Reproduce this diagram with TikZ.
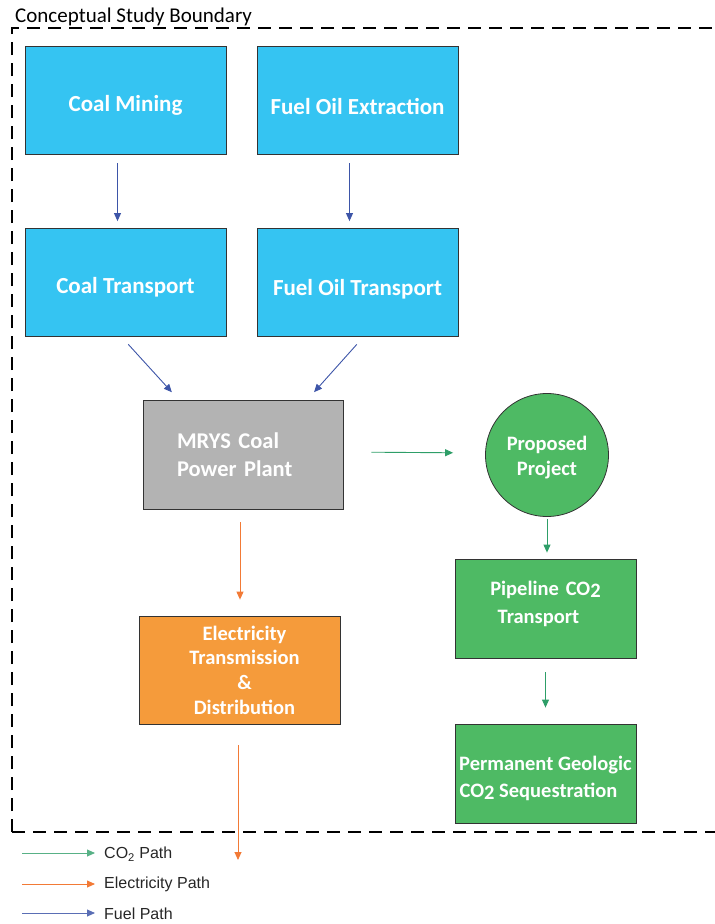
\documentclass[tikz,border=0pt]{standalone}
\usepackage{fontspec}
\setmainfont{Carlito}
\newfontfamily\legendfont{Liberation Sans}
\usetikzlibrary{positioning,arrows.meta}
\definecolor{boxblue}{HTML}{35C4F2}
\definecolor{boxgray}{HTML}{B3B3B3}
\definecolor{boxgreen}{HTML}{4EBA64}
\definecolor{boxorange}{HTML}{F59B3B}
\definecolor{fuelblue}{HTML}{3D55A8}
\definecolor{co2green}{HTML}{2E9E68}
\definecolor{elecorange}{HTML}{F27A36}

\begin{document}
\begin{tikzpicture}
	[x=1pt,y=-1pt,
	 box/.style={draw=black!80,line width=0.8pt,inner sep=0pt,text=white,align=center},
	 bigbox/.style={box,fill=boxblue,minimum width=201pt,minimum height=108pt,font=\bfseries\fontsize{23}{27}\selectfont},
	 greenbox/.style={box,fill=boxgreen,minimum width=181pt,minimum height=99pt,font=\bfseries\fontsize{20.5}{28}\selectfont},
	 fuel/.style={draw=fuelblue,line width=0.9pt,-{Triangle[length=8pt,width=7pt]}},
	 co2/.style={draw=co2green,line width=0.9pt,-{Triangle[length=8pt,width=7pt]}},
	 elec/.style={draw=elecorange,line width=0.9pt,-{Triangle[length=8pt,width=7pt]}},
	 legend/.style={anchor=west,inner sep=0pt,font=\legendfont\fontsize{16}{19}\selectfont,text=black!85}]
	\useasboundingbox (0,0) rectangle (715,924);

	% boundary
	\draw[line width=2.6pt,dash pattern=on 13pt off 8pt] (12,832) -- (12,28) -- (730,28);
	\draw[line width=2.6pt,dash pattern=on 13pt off 8pt] (12,832) -- (730,832);
	\node[anchor=west,inner sep=0pt,font=\fontsize{21}{25}\selectfont] (title) at (15,17) {Conceptual Study Boundary};

	% fuel chain
	\node[bigbox] (mining) at (125.5,100) {\rule{0pt}{27pt}Coal Mining};
	\node[bigbox] (extract) at (357.5,100) {\rule{0pt}{29pt}Fuel Oil Extraction};
	\node[bigbox] (ctrans) at (125.5,282.5) {\rule{0pt}{25pt}Coal Transport};
	\node[bigbox] (otrans) at (357.5,282.5) {\rule{0pt}{30pt}Fuel Oil Transport};
	\node[box,fill=boxgray,minimum width=200pt,minimum height=109pt,text width=132pt,inner xsep=34pt,align=left,
		font=\bfseries\fontsize{22.5}{28}\selectfont] (plant) at (243,454.5) {MRYS Coal\\Power Plant};

	% co2 chain
	\node[box,circle,fill=boxgreen,minimum size=123pt,font=\bfseries\fontsize{20.5}{25}\selectfont] (project) at (547,455) {\rule{0pt}{19pt}Proposed\\Project};
	\node[greenbox,text width=171pt,inner xsep=0pt,align=center] (pipe) at (545.5,608.5) {Pipeline CO\raisebox{-2pt}{2}\hspace*{14pt}\\Transport\hspace*{14pt}\rule[-13pt]{0pt}{1pt}};
	\node[greenbox,font=\bfseries\fontsize{20.5}{27}\selectfont] (seq) at (545.5,773.5) {\rule{0pt}{25pt}Permanent Geologic\\CO\raisebox{-2pt}{2} Sequestration\hspace*{14pt}};

	% electricity
	\node[box,fill=boxorange,minimum width=201pt,minimum height=108pt,font=\bfseries\fontsize{20.5}{24.7}\selectfont] (grid) at (239.5,670) {\hspace*{10pt}Electricity\\\hspace*{10pt}Transmission\\\hspace*{10pt}\&\\\hspace*{10pt}Distribution};
	\coordinate (out) at (238,860);

	\draw[fuel,shorten <=9pt,shorten >=7pt] ([xshift=-8]mining.south) -- ([xshift=-8]ctrans.north);
	\draw[fuel,shorten <=9pt,shorten >=7pt] ([xshift=-8]extract.south) -- ([xshift=-8]otrans.north);
	\draw[fuel,shorten <=10pt,shorten >=10pt] ([xshift=-4]ctrans.south) -- ([xshift=36]plant.north west);
	\draw[fuel,shorten <=10pt,shorten >=10pt] ([xshift=6]otrans.south) -- ([xshift=-36]plant.north east);
	\draw[co2,shorten <=28pt,shorten >=32pt] ([yshift=2.5]plant.east) -- ([yshift=2]project.west);
	\draw[co2,shorten <=2pt,shorten >=6pt] (project.south) -- ([xshift=1.5]pipe.north);
	\draw[co2,shorten <=14pt,shorten >=16pt] (pipe.south) -- (seq.north);
	\draw[elec,shorten <=13pt,shorten >=16pt] ([xshift=-3]plant.south) -- ([xshift=0.5]grid.north);
	\draw[elec,shorten <=21pt] ([xshift=-1.5]grid.south) -- (out);

	% legend
	\node[legend] (lco2) at (104,854) {CO\textsubscript{2} Path};
	\node[legend] (lelec) at (104,884) {Electricity Path};
	\node[legend] (lfuel) at (104,914) {Fuel Path};
	\coordinate (a1) at (22,853);
	\coordinate (a2) at (22,884);
	\coordinate (a3) at (22,913);
	\draw[co2,draw=co2green!80] (a1) -- ([xshift=-9]lco2.west |- a1);
	\draw[elec] (a2) -- ([xshift=-9]lelec.west |- a2);
	\draw[fuel,draw=fuelblue!85] (a3) -- ([xshift=-9]lfuel.west |- a3);
\end{tikzpicture}
\end{document}
